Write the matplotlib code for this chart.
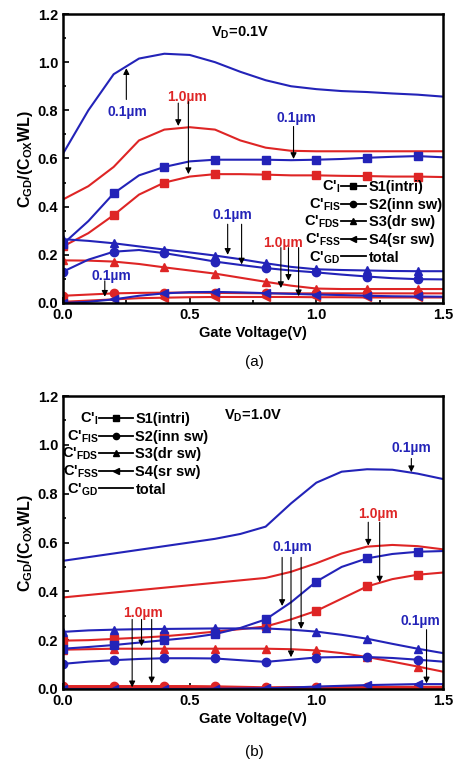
import matplotlib
matplotlib.use("Agg")
import matplotlib.pyplot as plt
from matplotlib.lines import Line2D
from matplotlib.ticker import MultipleLocator

plt.rcParams['font.family'] = ['Liberation Sans', 'DejaVu Sans']
plt.rcParams['mathtext.fontset'] = 'custom'
plt.rcParams['mathtext.rm'] = 'Liberation Sans:bold'
plt.rcParams['mathtext.it'] = 'Liberation Sans:bold'
plt.rcParams['mathtext.bf'] = 'Liberation Sans:bold'

BLUE = '#2323b8'
RED = '#de2525'

# ---------------- data ----------------
vg = [0.0, 0.1, 0.2, 0.3, 0.4, 0.5, 0.6, 0.7, 0.8, 0.9, 1.0, 1.1, 1.2, 1.3, 1.4, 1.5]

# (a) VD = 0.1 V
a_total_01 = [0.62, 0.80, 0.95, 1.015, 1.035, 1.03, 1.0, 0.96, 0.925, 0.90, 0.888, 0.88, 0.876, 0.87, 0.865, 0.857]
a_total_10 = [0.43, 0.485, 0.565, 0.675, 0.72, 0.73, 0.72, 0.675, 0.645, 0.632, 0.63, 0.63, 0.63, 0.63, 0.63, 0.63]
a_s1_01 = [0.245, 0.34, 0.455, 0.53, 0.565, 0.588, 0.595, 0.595, 0.595, 0.593, 0.595, 0.598, 0.603, 0.607, 0.61, 0.605]
a_s1_10 = [0.235, 0.29, 0.365, 0.45, 0.50, 0.525, 0.535, 0.535, 0.533, 0.53, 0.53, 0.528, 0.527, 0.525, 0.525, 0.523]
a_s2_01 = [0.13, 0.18, 0.213, 0.22, 0.207, 0.19, 0.172, 0.158, 0.145, 0.135, 0.127, 0.118, 0.11, 0.103, 0.099, 0.098]
a_s2_10 = [0.03, 0.035, 0.04, 0.042, 0.043, 0.043, 0.042, 0.041, 0.04, 0.04, 0.04, 0.04, 0.04, 0.04, 0.04, 0.04]
a_s3_01 = [0.265, 0.258, 0.248, 0.235, 0.222, 0.21, 0.197, 0.182, 0.165, 0.15, 0.14, 0.137, 0.135, 0.133, 0.132, 0.132]
a_s3_10 = [0.177, 0.176, 0.172, 0.162, 0.148, 0.135, 0.122, 0.105, 0.088, 0.072, 0.06, 0.058, 0.058, 0.058, 0.058, 0.058]
a_s4_01 = [0.0, 0.005, 0.015, 0.03, 0.04, 0.045, 0.046, 0.044, 0.041, 0.038, 0.035, 0.033, 0.03, 0.028, 0.027, 0.026]
a_s4_10 = [0.005, 0.01, 0.015, 0.02, 0.022, 0.024, 0.025, 0.025, 0.025, 0.025, 0.024, 0.024, 0.023, 0.023, 0.023, 0.023]

# (b) VD = 1.0 V
b_total_01 = [0.525, 0.54, 0.555, 0.57, 0.585, 0.60, 0.615, 0.635, 0.665, 0.76, 0.845, 0.89, 0.90, 0.898, 0.882, 0.86]
b_total_10 = [0.375, 0.385, 0.395, 0.405, 0.415, 0.425, 0.435, 0.445, 0.455, 0.48, 0.515, 0.555, 0.583, 0.59, 0.585, 0.572]
b_s1_01 = [0.165, 0.172, 0.18, 0.19, 0.20, 0.21, 0.225, 0.25, 0.285, 0.355, 0.44, 0.50, 0.535, 0.553, 0.562, 0.565]
b_s1_10 = [0.198, 0.20, 0.205, 0.21, 0.216, 0.225, 0.235, 0.245, 0.256, 0.285, 0.32, 0.37, 0.42, 0.45, 0.468, 0.477]
b_s2_01 = [0.103, 0.112, 0.118, 0.123, 0.126, 0.126, 0.125, 0.118, 0.111, 0.12, 0.129, 0.131, 0.131, 0.127, 0.12, 0.112]
b_s2_10 = [0.012, 0.012, 0.012, 0.012, 0.012, 0.012, 0.011, 0.009, 0.007, 0.008, 0.008, 0.009, 0.009, 0.009, 0.009, 0.009]
b_s3_01 = [0.234, 0.24, 0.243, 0.245, 0.246, 0.247, 0.248, 0.248, 0.248, 0.243, 0.235, 0.222, 0.206, 0.185, 0.165, 0.147]
b_s3_10 = [0.161, 0.163, 0.165, 0.165, 0.165, 0.165, 0.165, 0.165, 0.165, 0.163, 0.158, 0.147, 0.131, 0.112, 0.092, 0.071]
b_s4_01 = [0.0, 0.0, 0.0, 0.0, 0.0, 0.0, 0.001, 0.002, 0.003, 0.006, 0.01, 0.013, 0.016, 0.018, 0.02, 0.02]
b_s4_10 = [0.005, 0.005, 0.005, 0.005, 0.005, 0.005, 0.005, 0.005, 0.005, 0.005, 0.005, 0.005, 0.005, 0.005, 0.005, 0.005]

legend_left = ["C'$_{I}$", "C'$_{FIS}$", "C'$_{FDS}$", "C'$_{FSS}$", "C'$_{GD}$"]
legend_right = ["S1(intri)", "S2(inn sw)", "S3(dr sw)", "S4(sr sw)", "total"]
legend_markers = ['s', 'o', '^', '<', None]

x_ticks = [0.0, 0.5, 1.0, 1.5]
y_ticks = [0.0, 0.2, 0.4, 0.6, 0.8, 1.0, 1.2]

# annotations: (text, color, text_xy, [arrow (x, y_start, y_end)])
ann_a = [
    ("0.1\u00b5m", BLUE, (0.255, 0.795), [(0.25, 0.845, 0.975)]),
    ("1.0\u00b5m", RED, (0.49, 0.855), [(0.455, 0.83, 0.735), (0.495, 0.836, 0.535)]),
    ("0.1\u00b5m", BLUE, (0.92, 0.77), [(0.91, 0.733, 0.598)]),
    ("0.1\u00b5m", BLUE, (0.67, 0.365), [(0.65, 0.327, 0.20), (0.705, 0.327, 0.16)]),
    ("1.0\u00b5m", RED, (0.87, 0.25), [(0.86, 0.23, 0.062), (0.89, 0.23, 0.092), (0.93, 0.23, 0.028)]),
    ("0.1\u00b5m", BLUE, (0.19, 0.113), [(0.165, 0.092, 0.026)]),
]
ann_b = [
    ("0.1\u00b5m", BLUE, (1.375, 0.985), [(1.375, 0.944, 0.888)]),
    ("1.0\u00b5m", RED, (1.245, 0.715), [(1.205, 0.683, 0.587), (1.25, 0.683, 0.436)]),
    ("0.1\u00b5m", BLUE, (0.905, 0.58), [(0.865, 0.539, 0.34), (0.90, 0.539, 0.13), (0.94, 0.539, 0.246)]),
    ("1.0\u00b5m", RED, (0.315, 0.313), [(0.273, 0.285, 0.007), (0.31, 0.285, 0.175), (0.35, 0.285, 0.023)]),
    ("0.1\u00b5m", BLUE, (1.41, 0.277), [(1.435, 0.243, 0.023)]),
]

# ---------------- figure ----------------
fig = plt.figure(figsize=(4.59, 7.67), dpi=100)
ax_a = fig.add_axes([63 / 459, 1 - 303 / 767, 380 / 459, 289 / 767])
ax_b = fig.add_axes([63 / 459, 1 - 689 / 767, 380 / 459, 293 / 767])

mk_idx = list(range(0, 15, 2))


def draw_panel(ax, data01, data10, anns):
    lw = 1.5
    for series, col in ((data10, RED), (data01, BLUE)):
        tot, s1, s2, s3, s4 = series
        ax.plot(vg, tot, color=col, lw=lw)
        for ys, m in zip((s1, s2, s3, s4), ('s', 'o', '^', '<')):
            ax.plot(vg, ys, color=col, lw=lw, marker=m, markersize=6,
                    markevery=mk_idx)
    for txt, col, (tx, ty), arrows in anns:
        ax.text(tx, ty, txt, color=col, fontsize=10, fontweight='bold',
                ha='center', va='center')
        for (axx, y0, y1) in arrows:
            ax.annotate("", xy=(axx, y1), xytext=(axx, y0),
                        arrowprops=dict(arrowstyle='-|>', color='black', lw=0.8,
                                        mutation_scale=9, shrinkA=0, shrinkB=0))
    ax.set_xlim(0, 1.5)
    ax.set_ylim(0, 1.2)
    ax.set_xticks(x_ticks)
    ax.set_yticks(y_ticks)
    ax.set_xticklabels([f"{v:.1f}" for v in x_ticks])
    ax.set_yticklabels([f"{v:.1f}" for v in y_ticks])
    ax.xaxis.set_minor_locator(MultipleLocator(0.25))
    ax.yaxis.set_minor_locator(MultipleLocator(0.1))
    ax.tick_params(which='both', direction='in', top=False, right=False,
                   labelsize=10.5, width=1.2)
    ax.tick_params(which='major', length=4)
    ax.tick_params(which='minor', length=2.5)
    for lab in ax.get_xticklabels() + ax.get_yticklabels():
        lab.set_fontweight('bold')
    for sp in ax.spines.values():
        sp.set_linewidth(1.8)
    ax.set_xlabel("Gate Voltage(V)", fontsize=10.5, fontweight='bold', labelpad=3)
    ax.set_ylabel(r"$C_{GD}/(C_{OX}WL)$", fontsize=11.5, labelpad=2)


draw_panel(ax_a, (a_total_01, a_s1_01, a_s2_01, a_s3_01, a_s4_01),
           (a_total_10, a_s1_10, a_s2_10, a_s3_10, a_s4_10), ann_a)
draw_panel(ax_b, (b_total_01, b_s1_01, b_s2_01, b_s3_01, b_s4_01),
           (b_total_10, b_s1_10, b_s2_10, b_s3_10, b_s4_10), ann_b)

ax_a.text(0.70, 1.12, r"$V_{D}$=0.1V", fontsize=10.5, fontweight='bold', ha='center', va='center')
ax_b.text(0.75, 1.12, r"$V_{D}$=1.0V", fontsize=10.5, fontweight='bold', ha='center', va='center')

fig.text(254 / 459, 1 - 362 / 767, "(a)", fontsize=11, ha='center', va='center')
fig.text(254 / 459, 1 - 752 / 767, "(b)", fontsize=11, ha='center', va='center')

FS = 10.5
HTP = 0.2


def make_legend(ax, loc, anchor, hl):
    handles = [Line2D([], [], color='black', lw=1.3, marker=m, markersize=4.5)
               for m in legend_markers]
    leg = ax.legend(handles, legend_right, loc=loc, bbox_to_anchor=anchor,
                    markerfirst=True, frameon=False, prop={'size': FS, 'weight': 'bold'},
                    handlelength=hl, handletextpad=HTP, labelspacing=0.25,
                    borderpad=0, borderaxespad=0)
    off = -(hl + HTP) * FS - 0.5
    for i, t in enumerate(leg.get_texts()):
        ax.annotate(legend_left[i], xy=(0.0, 0.5), xycoords=t,
                    xytext=(off, 0), textcoords='offset points',
                    fontsize=FS, fontweight='bold', va='center', ha='right',
                    zorder=10)
    return leg


make_legend(ax_a, 'upper right', (0.997, (303 - 180) / 289), 1.7)
make_legend(ax_b, 'upper left', ((99 - 63) / 380, (689 - 412) / 293), 2.3)

fig.canvas.draw()
fig.savefig("out.png", dpi=100)
